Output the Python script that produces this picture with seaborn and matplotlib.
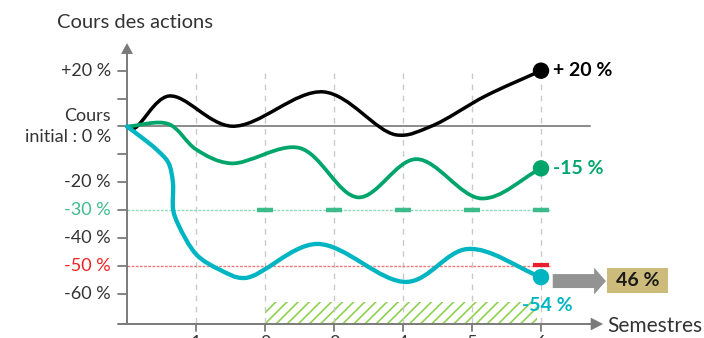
import numpy as np
import pandas as pd
import matplotlib
matplotlib.use("Agg")
import matplotlib.pyplot as plt
from matplotlib.path import Path
from matplotlib.patches import PathPatch, Rectangle, Polygon
import seaborn as sns

# ---- data -------------------------------------------------------------
semestres = [1, 2, 3, 4, 5, 6]
x_tick_labels = ["1", "2", "3", "4", "5", "6"]

# share-price paths (semester, % change vs. initial price)
noir_x = [0, 0.1, 0.6, 1.52, 2.85, 3.9, 4.4, 5.2, 6]
noir_y = [0, -0.7, 10.9, 0.1, 12.4, -3.0, 0.0, 11.0, 20]

vert_x = [0, 0.6, 1.0, 1.5, 2.5, 3.35, 4.19, 5.14, 6]
vert_y = [0, 0.9, -8.2, -13.2, -7.7, -25.4, -11.7, -25.8, -15]

cyan_x = [0, 0.19, 0.43, 0.6, 0.665, 0.67, 0.74, 1.01, 1.35, 1.71,
          2.75, 4.06, 4.94, 6]
cyan_y = [0, -3.5, -8.3, -13.0, -20.0, -30.0, -35.0, -46.0, -51.4,
          -54.3, -42.1, -55.7, -43.9, -54]

fin_valeurs = [20, -15, -54]
fin_labels = ["+ 20 %", "-15 %", "-54 %"]

y_ticks = [20, 10, 0, -10, -20, -30, -40, -50, -60]
y_tick_labels = {20: "+20 %", 0: "Cours\ninitial : 0 %", -20: "-20 %",
                 -30: "-30 %", -40: "-40 %", -50: "-50 %", -60: "-60 %"}

seuil_vert = -30
seuil_rouge = -50
semestres_seuil_vert = [2, 3, 4, 5, 6]
semestres_seuil_rouge = [6]
remboursement = "46 %"

# ---- style ------------------------------------------------------------
NOIR = "#000000"
VERT = "#00a56b"
CYAN = "#00b5c2"
VERT_CLAIR = "#3dbb8a"
ROUGE = "#ea1d2c"
GRIS_AXE = "#7a7a7a"
TEXTE = "#333333"

sns.set_theme(style="white")
plt.rcParams["font.family"] = ["Lato", "DejaVu Sans"]
plt.rcParams["hatch.linewidth"] = 1.2

fig = plt.figure(figsize=(7.04, 3.38), dpi=100)
ax = fig.add_axes([0, 0, 1, 1])
ax.set_axis_off()
ax.set_xlim(-127 / 69, 577 / 69)
ax.set_ylim(-75.81, 45.34)

X_AXIS_Y = -70.8
PX_X, PX_Y = 69.0, 2.79   # screen pixels per semester / per percent


def smooth_path(xs, ys, alpha=0.5):
    """Centripetal Catmull-Rom curve through the points, as cubic Bezier segments."""
    scale = np.array([PX_X, PX_Y])
    p = np.column_stack([xs, ys]).astype(float) * scale
    p = np.vstack([2 * p[0] - p[1], p, 2 * p[-1] - p[-2]])
    verts = [p[1]]
    codes = [Path.MOVETO]
    for i in range(1, len(p) - 2):
        p0, p1, p2, p3 = p[i - 1], p[i], p[i + 1], p[i + 2]
        d1 = max(np.linalg.norm(p1 - p0), 1e-6) ** alpha
        d2 = max(np.linalg.norm(p2 - p1), 1e-6) ** alpha
        d3 = max(np.linalg.norm(p3 - p2), 1e-6) ** alpha
        b1 = (d1 ** 2 * p2 - d2 ** 2 * p0
              + (2 * d1 ** 2 + 3 * d1 * d2 + d2 ** 2) * p1) / (3 * d1 * (d1 + d2))
        b2 = (d3 ** 2 * p1 - d2 ** 2 * p3
              + (2 * d3 ** 2 + 3 * d3 * d2 + d2 ** 2) * p2) / (3 * d3 * (d3 + d2))
        verts += [b1, b2, p2]
        codes += [Path.CURVE4] * 3
    return Path(np.array(verts) / scale, codes)


# hatched zone above the time axis
ax.add_patch(Rectangle((2, X_AXIS_Y), 3.94, X_AXIS_Y * -1 - 62.9,
                       facecolor="none", edgecolor="#8fd14f", hatch="///",
                       linewidth=0, zorder=1))

# vertical semester guides
for s in semestres:
    ax.plot([s, s], [19, X_AXIS_Y], color="#c9c9c9", lw=1.0,
            dashes=(4, 4), zorder=1)
    ax.plot([s, s], [X_AXIS_Y, X_AXIS_Y - 2.6], color=GRIS_AXE, lw=1.3, zorder=3)
    ax.text(s, -74.9, x_tick_labels[s - 1], ha="center", va="top",
            fontsize=13, color=TEXTE)

# threshold lines
seuils = pd.DataFrame({"s": [0, 6.13, 0, 6.13],
                       "v": [seuil_vert, seuil_vert, seuil_rouge, seuil_rouge],
                       "seuil": ["vert", "vert", "rouge", "rouge"]})
sns.lineplot(data=seuils, x="s", y="v", hue="seuil",
             palette={"vert": "#8fdcbc", "rouge": "#f07a7a"},
             linewidth=1.0, linestyle=(0, (2, 1)), legend=False, ax=ax, zorder=2)
for s in semestres_seuil_vert:
    ax.plot([s - 0.11, s + 0.11], [seuil_vert, seuil_vert], color=VERT_CLAIR,
            lw=3.2, solid_capstyle="butt", zorder=3)
for s in semestres_seuil_rouge:
    ax.plot([s - 0.11, s + 0.11], [seuil_rouge + 0.2] * 2, color=ROUGE,
            lw=3.0, solid_capstyle="butt", zorder=3)

# initial price line
ax.plot([0, 6.71], [0, 0], color="#8a8a8a", lw=1.4, zorder=2)

# axes with arrow heads
ax.plot([0, 0], [X_AXIS_Y, 26.3], color=GRIS_AXE, lw=1.4, zorder=3)
ax.add_patch(Polygon([[-0.087, 26.0], [0.087, 26.0], [0, 29.9]],
                     closed=True, color=GRIS_AXE, lw=0, zorder=3))
ax.plot([-0.13, 6.75], [X_AXIS_Y, X_AXIS_Y], color=GRIS_AXE, lw=1.4, zorder=3)
ax.add_patch(Polygon([[6.72, X_AXIS_Y + 2.3], [6.72, X_AXIS_Y - 2.3],
                      [6.9, X_AXIS_Y]], closed=True, color=GRIS_AXE, lw=0, zorder=3))
ax.text(6.96, X_AXIS_Y - 0.6, "Semestres", ha="left", va="center",
        fontsize=15, color=TEXTE)

# y ticks and labels
for v in y_ticks:
    ax.plot([-0.13, 0], [v, v], color=GRIS_AXE, lw=1.3, zorder=3)
for v, lab in y_tick_labels.items():
    col = TEXTE
    if v == seuil_vert:
        col = VERT_CLAIR
    elif v == seuil_rouge:
        col = "#f02020"
    ax.text(-0.232, v, lab, ha="right", va="center", ma="right",
            fontsize=13, color=col, linespacing=1.35)
ax.text(0.123, 37.3, "Cours des actions", ha="center", va="center",
        fontsize=14.5, color=TEXTE)

# price paths
for xs, ys, col, lw in [(noir_x, noir_y, NOIR, 2.5),
                        (vert_x, vert_y, VERT, 2.7),
                        (cyan_x, cyan_y, CYAN, 3.1)]:
    ax.add_patch(PathPatch(smooth_path(xs, ys), facecolor="none",
                           edgecolor=col, lw=lw, capstyle="round", zorder=4))

fins = pd.DataFrame({"s": [6, 6, 6], "v": fin_valeurs,
                     "serie": ["noir", "vert", "cyan"]})
sns.scatterplot(data=fins, x="s", y="v", hue="serie",
                palette={"noir": NOIR, "vert": VERT, "cyan": CYAN},
                s=140, linewidth=0, legend=False, ax=ax, zorder=5)

ax.text(6.17, fin_valeurs[0], fin_labels[0], ha="left", va="center",
        fontsize=14, fontweight="bold", color=NOIR)
ax.text(6.17, fin_valeurs[1], fin_labels[1], ha="left", va="center",
        fontsize=14, fontweight="bold", color=VERT)
ax.text(6.09, -64.0, fin_labels[2], ha="center", va="center",
        fontsize=14, fontweight="bold", color=CYAN, zorder=6)

# redemption arrow and box
ay = -55.4
ax.add_patch(Polygon([[6.17, ay + 2.5], [6.77, ay + 2.5], [6.77, ay + 4.8],
                      [6.94, ay], [6.77, ay - 4.8], [6.77, ay - 2.5],
                      [6.17, ay - 2.5]], closed=True, color="#939393", lw=0,
                     zorder=4))
ax.add_patch(Rectangle((6.957, -59.7), 0.884, 9.0, facecolor="#cdbb7c",
                       edgecolor="none", zorder=4))
ax.text(7.399, -55.2, remboursement, ha="center", va="center", fontsize=14,
        fontweight="bold", color="#1a1a1a", zorder=5)

fig.savefig("out.png", dpi=100)
